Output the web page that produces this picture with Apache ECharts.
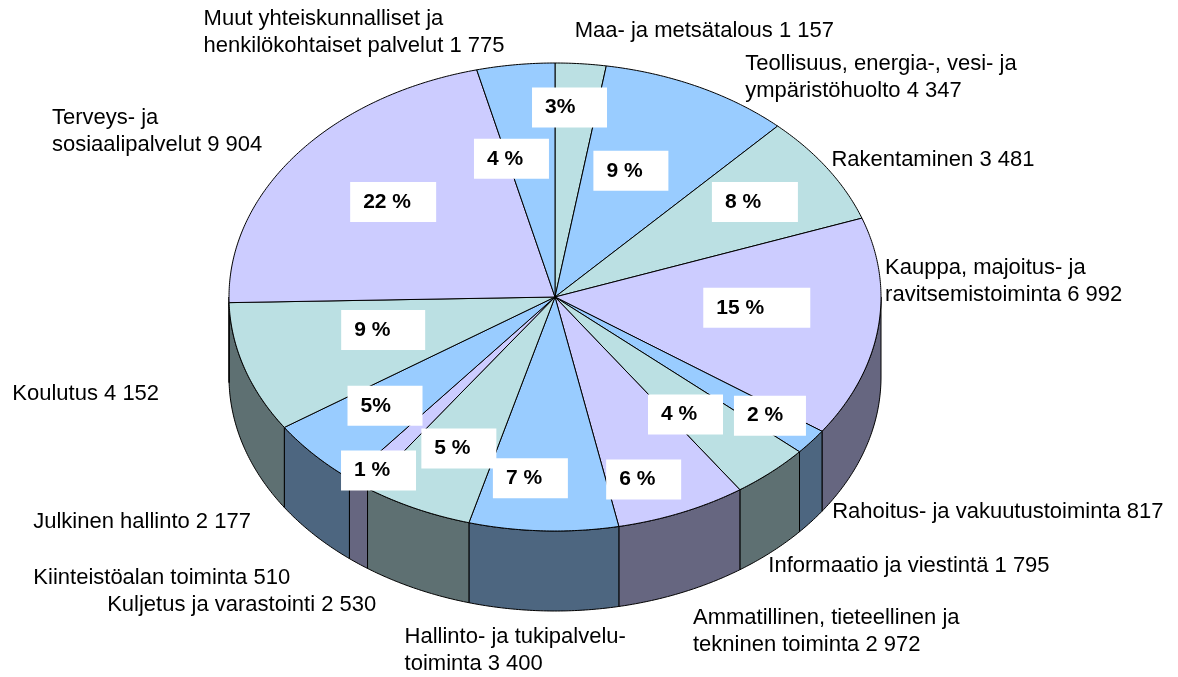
<!DOCTYPE html>
<html><head><meta charset="utf-8">
<script src="https://cdn.jsdelivr.net/npm/echarts@6/dist/echarts.min.js"></script>
<style>html,body{margin:0;padding:0;background:#fff}#c{width:1178px;height:677px}</style>
</head><body><div id="c"></div>
<script>
// ---- data ----
const categories = [
  'Maa- ja metsätalous',
  'Teollisuus, energia-, vesi- ja\nympäristöhuolto',
  'Rakentaminen',
  'Kauppa, majoitus- ja\nravitsemistoiminta',
  'Rahoitus- ja vakuutustoiminta',
  'Informaatio ja viestintä',
  'Ammatillinen, tieteellinen ja\ntekninen toiminta',
  'Hallinto- ja tukipalvelu-\ntoiminta',
  'Kuljetus ja varastointi',
  'Kiinteistöalan toiminta',
  'Julkinen hallinto',
  'Koulutus',
  'Terveys- ja\nsosiaalipalvelut',
  'Muut yhteiskunnalliset ja\nhenkilökohtaiset palvelut'
];
const values = [1157, 4347, 3481, 6992, 817, 1795, 2972, 3400, 2530, 510, 2177, 4152, 9904, 1775];
const pctSeparators = ['', ' ', ' ', ' ', ' ', ' ', ' ', ' ', ' ', ' ', '', ' ', ' ', ' '];

// ---- styles / layout ----
const topColors  = ['#BBE0E3','#99CCFF','#BBE0E3','#CCCCFF','#99CCFF','#BBE0E3','#CCCCFF','#99CCFF','#BBE0E3','#CCCCFF','#99CCFF','#BBE0E3','#CCCCFF','#99CCFF'];
const sideColors = ['#5E7072','#4D6680','#5E7072','#666680','#4D6680','#5E7072','#666680','#4D6680','#5E7072','#666680','#4D6680','#5E7072','#666680','#4D6680'];
const pctRadius = [0.81, 0.58, 0.705, 0.57, 0.82, 0.63, 0.82, 0.78, 0.72, 0.93, 0.72, 0.578, 0.656, 0.61];
const pctNudge  = [-3.4, -4.5, -1.8, -3, 0, 4.4, 5, 5, 0.7, 0, 2.2, 3.5, 0.9, -7.6];
const pctBoxWidth = [75, 75, 86, 107, 72, 75, 75, 75, 75, 75, 75, 84, 86, 75];
const outerOffset = [[-6,-33],[47,-9],[4,-9],[7,-47],[21,70],[-3,94],[11,119],[-139,120],[-309,96],[-325,94],[-281,67],[-232,26],[-244,-24],[-312,-32]];
const DEPTH = 80 / 234;

const total = values.reduce((a, b) => a + b, 0);
const starts = [], ends = [];
let acc = 0;
values.forEach(v => { starts.push(acc / total * 360); acc += v; ends.push(acc / total * 360); });
const fmt = v => String(v).replace(/\B(?=(\d{3})+(?!\d))/g, ' ');

const FONT = '"Liberation Sans", Arial, sans-serif';
const PCT_FONT = 'bold 21px ' + FONT;
const measureCtx = document.createElement('canvas').getContext('2d');
function textWidth(t, f) { measureCtx.font = f; return measureCtx.measureText(t).width; }

function rim(th, k, dy) { const r = th * Math.PI / 180; return [k * Math.sin(r), k * Math.cos(r) - (dy || 0)]; }
function arcPts(api, a0, a1, dy) {
  const pts = []; const n = Math.max(2, Math.ceil((a1 - a0) / 0.5));
  for (let j = 0; j <= n; j++) pts.push(api.coord(rim(a0 + (a1 - a0) * j / n, 1, dy)));
  return pts;
}
const seriesData = values.map((v, i) => [i, v]);

const chart = echarts.init(document.getElementById('c'), null, { renderer: 'canvas' });
chart.setOption({
  animation: false,
  backgroundColor: '#fff',
  grid: { left: 229, top: 63, width: 652, height: 468 },
  xAxis: { type: 'value', min: -1, max: 1, show: false },
  yAxis: { type: 'value', min: -1, max: 1, show: false },
  series: [
    { type: 'custom', z: 1, data: seriesData, encode: { x: -1, y: -1 },
      renderItem: (p, api) => {
        const i = api.value(0);
        const a0 = Math.max(starts[i], 90), a1 = Math.min(ends[i], 270);
        if (a1 <= a0) return { type: 'group', children: [] };
        const top = arcPts(api, a0, a1, 0), bot = arcPts(api, a0, a1, DEPTH).reverse();
        return { type: 'polygon', shape: { points: top.concat(bot) }, style: { fill: sideColors[i], stroke: '#000', lineWidth: 1 } };
      } },
    { type: 'custom', z: 2, data: seriesData, encode: { x: -1, y: -1 },
      renderItem: (p, api) => {
        const i = api.value(0);
        const pts = [api.coord([0, 0])].concat(arcPts(api, starts[i], ends[i], 0));
        return { type: 'polygon', shape: { points: pts }, style: { fill: topColors[i], stroke: '#000', lineWidth: 1 } };
      } },
    { type: 'custom', z: 3, data: seriesData, encode: { x: -1, y: -1 },
      renderItem: (p, api) => {
        const i = api.value(0);
        const mid = (starts[i] + ends[i]) / 2;
        const anchor = api.coord(rim(mid, 1, 0));
        const lp = api.coord(rim(mid + pctNudge[i], pctRadius[i], 0));
        const pct = Math.round(values[i] / total * 100) + pctSeparators[i] + '%';
        const tw = textWidth(pct, PCT_FONT);
        const boxLeft = lp[0] - tw / 2 - 13;
        return { type: 'group', children: [
          { type: 'text', x: anchor[0] + outerOffset[i][0], y: anchor[1] + outerOffset[i][1],
            style: { text: categories[i] + ' ' + fmt(values[i]), font: '22px ' + FONT, fill: '#000',
              align: 'left', verticalAlign: 'middle', textAlign: 'left', textVerticalAlign: 'middle', lineHeight: 27 } },
          { type: 'rect', shape: { x: boxLeft, y: lp[1] - 20, width: pctBoxWidth[i], height: 40 },
            style: { fill: '#fff' } },
          { type: 'text', x: lp[0], y: lp[1],
            style: { text: pct, font: PCT_FONT, fill: '#000', align: 'center', verticalAlign: 'middle',
              textAlign: 'center', textVerticalAlign: 'middle' } }
        ] };
      } }
  ]
});
</script></body></html>
